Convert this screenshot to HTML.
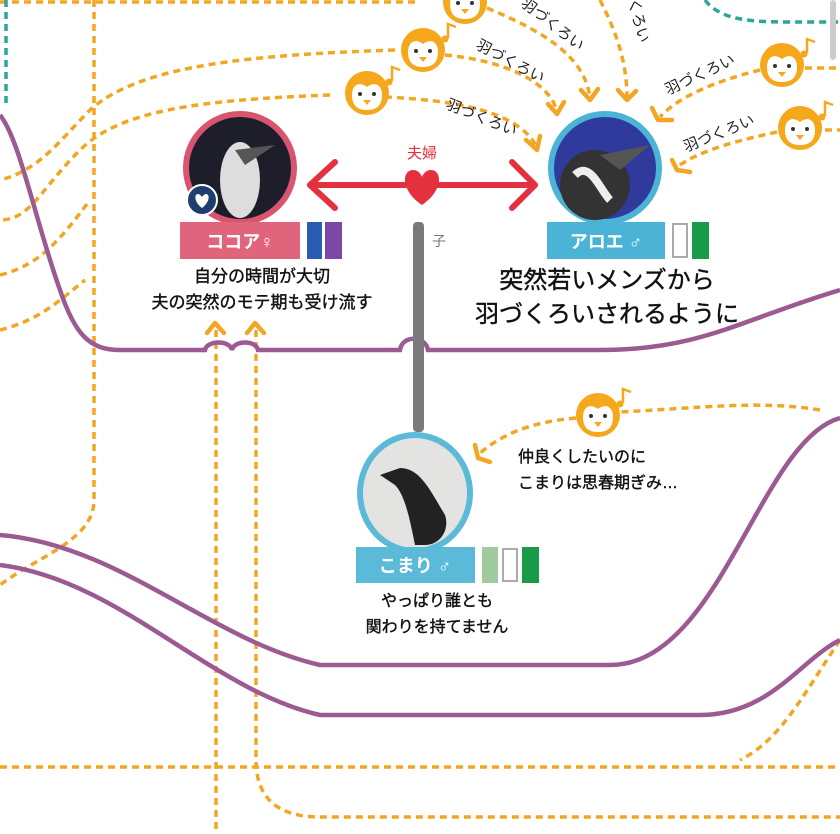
<!DOCTYPE html>
<html><head><meta charset="utf-8"><style>
html,body{margin:0;padding:0;background:#fff;}
svg{display:block;}
text{font-family:"Liberation Sans","Noto Sans CJK JP",sans-serif;}
</style></head><body>
<svg width="840" height="834" viewBox="0 0 840 834" xmlns="http://www.w3.org/2000/svg">
<defs>
<g id="pg">
<circle cx="0" cy="0" r="22" fill="#f5a81c"/>
<path d="M-15,2 C-15,-8 -8,-12 0,-6 C8,-12 15,-8 15,2 C15,14 8,17 0,17 C-8,17 -15,14 -15,2Z" fill="#fff"/>
<circle cx="-7" cy="1" r="2" fill="#333"/><circle cx="7" cy="1" r="2" fill="#333"/>
<path d="M-4,7 L4,7 L0,12Z" fill="#f5a81c"/>
<path d="M25,-12 l0,-14 l8,3" stroke="#f5a81c" stroke-width="2.5" fill="none"/><circle cx="22" cy="-11" r="3.5" fill="#f5a81c"/>
</g>
</defs>
<g fill="none" stroke="#f2a623" stroke-width="3.5" stroke-dasharray="7,5">
<path d="M0,2 L420,2"/>
<path d="M94,0 L94,500 C94,540 40,555 0,585"/>
<path d="M330,95 C200,100 120,110 80,150 C40,190 30,220 0,220"/>
<path d="M395,50 C250,55 140,65 90,110 C60,140 40,170 0,180"/>
<path d="M0,275 C40,265 60,240 90,200"/>
<path d="M0,330 C40,320 60,300 85,280"/>
<path d="M216,330 L216,834"/>
<path d="M256,330 L256,760 C256,800 280,817 320,817 L840,817"/>
<path d="M0,767 L840,767"/>
<path d="M840,640 C800,700 780,740 740,760"/>
<path d="M385,97 C450,100 520,110 537,148"/>
<path d="M445,55 C500,60 550,80 557,112"/>
<path d="M487,8 C540,30 585,55 590,98"/>
<path d="M600,0 C615,30 627,60 627,98"/>
<path d="M760,70 C720,80 680,95 660,117"/>
<path d="M777,132 C740,140 700,150 677,167"/>
<path d="M576,418 C530,422 500,435 478,455"/>
<path d="M820,410 C760,400 700,408 620,412"/>
<path d="M805,68 L840,68"/><path d="M825,130 L840,130"/>
</g>
<g fill="none" stroke="#f2a623" stroke-width="4.5" stroke-linecap="round" stroke-linejoin="round">
<path d="M526,140 L537,150 L540,136"/>
<path d="M548,104 L557,114 L564,102"/>
<path d="M581,90 L590,100 L598,89"/>
<path d="M618,90 L627,100 L636,91"/>
<path d="M652,108 L658,120 L672,120"/>
<path d="M672,160 L677,170 L690,172"/>
<path d="M475,445 L478,458 L490,462"/>
<path d="M207,333 L215,323 L224,333"/><path d="M247,333 L255,323 L264,333"/>
</g>
<g fill="none" stroke="#2aa69a" stroke-width="3.5" stroke-dasharray="7,5">
<path d="M6,0 L6,105"/>
<path d="M705,0 C720,20 750,22 790,22 L840,22"/>
</g>
<rect x="830" y="0" width="6" height="60" rx="3" fill="#ccc"/>
<g fill="none" stroke="#9c5a92" stroke-width="4.5">
<path d="M0,115 C20,140 35,220 60,290 C75,335 90,350 120,350 L205,350 C207,340 230,340 232,350 C234,340 256,340 258,350 L400,350 C402,335 425,335 428,350 L600,350 C700,350 740,320 840,290"/>
<path d="M0,535 C120,545 210,640 320,665 L610,665 C720,665 760,440 840,418"/>
<path d="M0,565 C120,580 210,690 320,715 L700,715 C770,715 800,660 840,640"/>
</g>
<rect x="413" y="222" width="11" height="210" rx="4" fill="#7a7a7a"/>
<text x="432" y="246" font-size="14" fill="#777">子</text>
<use href="#pg" x="367" y="93"/><use href="#pg" x="423" y="50"/><use href="#pg" x="465" y="2"/>
<use href="#pg" x="782" y="65"/><use href="#pg" x="800" y="128"/><use href="#pg" x="598" y="415"/>
<g font-size="15" fill="#222">
<text transform="translate(445,108) rotate(22)">羽づくろい</text>
<text transform="translate(475,48) rotate(28)">羽づくろい</text>
<text transform="translate(520,5) rotate(38)">羽づくろい</text>
<text transform="translate(628,0) rotate(75)">くろい</text>
<text transform="translate(668,95) rotate(-25)">羽づくろい</text>
<text transform="translate(686,152) rotate(-22)">羽づくろい</text>
</g>
<g stroke="#e53040" stroke-width="6" fill="none" stroke-linecap="round" stroke-linejoin="round">
<path d="M310,185 L535,185"/><path d="M335,162 L310,185 L335,208"/><path d="M512,162 L535,185 L512,208"/>
</g>
<path d="M422,205 C400,190 402,170 413,170 C418,170 421,174 422,177 C423,174 426,170 431,170 C442,170 444,190 422,205Z" fill="#e53040"/>
<text x="422" y="158" font-size="15" fill="#e53040" text-anchor="middle">夫婦</text>
<circle cx="240" cy="168" r="54" fill="#1e1e2a" stroke="#d9546e" stroke-width="6"/>
<ellipse cx="240" cy="180" rx="20" ry="38" fill="#ddd"/><path d="M235,150 L275,145 L245,165Z" fill="#555"/>
<circle cx="202" cy="200" r="15" fill="#1d3f6e" stroke="#fff" stroke-width="2"/>
<path d="M202,208 C194,202 194,194 198,194 C200,194 202,197 202,197 C202,197 204,194 206,194 C210,194 210,202 202,208Z" fill="#fff"/>
<rect x="180" y="222" width="120" height="37" fill="#e0647c"/>
<text x="240" y="248" font-size="18" fill="#fff" text-anchor="middle" font-weight="bold">ココア♀</text>
<rect x="307" y="222" width="15" height="37" fill="#2a5cb4"/><rect x="325" y="222" width="17" height="37" fill="#7b48a6"/>
<circle cx="605" cy="168" r="54" fill="#2f3a9c" stroke="#4ab3d6" stroke-width="6"/>
<ellipse cx="595" cy="185" rx="35" ry="35" fill="#333"/><path d="M575,175 C590,160 600,190 610,200" stroke="#eee" stroke-width="8" fill="none"/><path d="M600,155 L650,145 L620,170Z" fill="#555"/>
<rect x="547" y="222" width="118" height="37" fill="#4ab3d6"/>
<text x="606" y="248" font-size="18" fill="#fff" text-anchor="middle" font-weight="bold">アロエ ♂</text>
<rect x="673" y="224" width="14" height="33" fill="#fff" stroke="#aaa" stroke-width="2"/><rect x="692" y="222" width="17" height="37" fill="#199a48"/>
<ellipse cx="415" cy="493" rx="55" ry="58" fill="#e3e3e1" stroke="#5bbad8" stroke-width="6"/>
<path d="M380,475 L400,468 C420,468 430,490 445,515 C450,530 440,545 425,545 L415,545 C410,520 405,495 395,485Z" fill="#222"/>
<rect x="356" y="547" width="119" height="36" fill="#5bbad8"/>
<text x="415" y="572" font-size="18" fill="#fff" text-anchor="middle" font-weight="bold">こまり ♂</text>
<rect x="482" y="547" width="16" height="36" fill="#9fcb9f"/><rect x="503" y="549" width="14" height="32" fill="#fff" stroke="#aaa" stroke-width="2"/><rect x="522" y="547" width="17" height="36" fill="#199a48"/>
<g fill="#111" text-anchor="middle" stroke="#111" stroke-width="0.4">
<text x="262" y="282" font-size="17">自分の時間が大切</text>
<text x="262" y="308" font-size="17">夫の突然のモテ期も受け流す</text>
<text x="607" y="288" font-size="24">突然若いメンズから</text>
<text x="607" y="322" font-size="24">羽づくろいされるように</text>
<text x="582" y="462" font-size="16">仲良くしたいのに</text>
<text x="598" y="488" font-size="16">こまりは思春期ぎみ…</text>
<text x="437" y="606" font-size="16">やっぱり誰とも</text>
<text x="437" y="632" font-size="16">関わりを持てません</text>
</g>
</svg>
</body></html>
